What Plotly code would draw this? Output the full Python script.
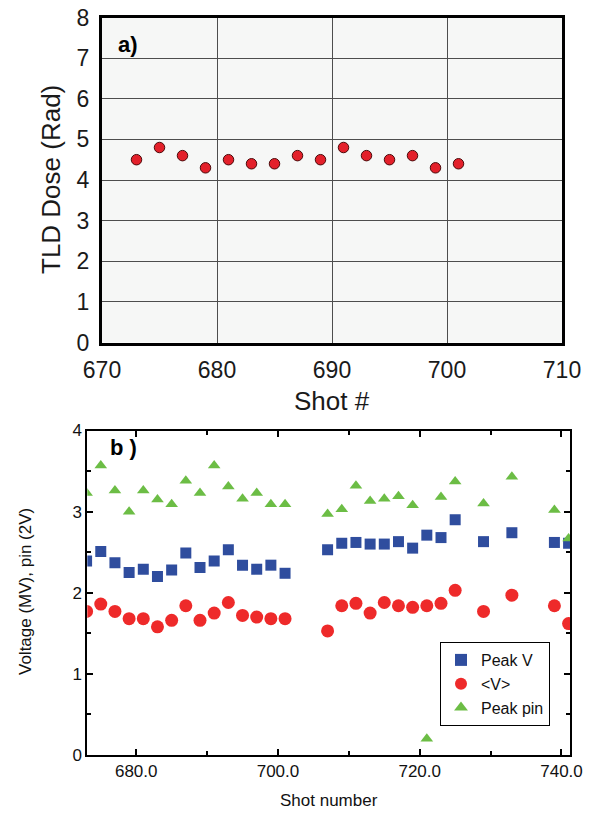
import plotly.graph_objects as go

W, H = 589, 817

# ---- panel a) data ----
dose_shots = [673, 675, 677, 679, 681, 683, 685, 687, 689, 691, 693, 695, 697, 699, 701]
dose_rad = [4.5, 4.8, 4.6, 4.3, 4.5, 4.4, 4.4, 4.6, 4.5, 4.8, 4.6, 4.5, 4.6, 4.3, 4.4]

# ---- panel b) data ----
shots_b = [673, 675, 677, 679, 681, 683, 685, 687, 689, 691, 693, 695, 697, 699, 701,
           707, 709, 711, 713, 715, 717, 719, 721, 723, 725, 729, 733, 739, 741]
peak_v = [2.39, 2.51, 2.37, 2.25, 2.29, 2.20, 2.28, 2.49, 2.31, 2.39, 2.53, 2.34, 2.29, 2.34, 2.24,
          2.53, 2.61, 2.62, 2.60, 2.60, 2.63, 2.55, 2.71, 2.68, 2.90, 2.63, 2.74, 2.62, 2.61]
mean_v = [1.77, 1.86, 1.77, 1.68, 1.68, 1.58, 1.66, 1.84, 1.66, 1.75, 1.88, 1.72, 1.70, 1.68, 1.68,
          1.53, 1.84, 1.87, 1.75, 1.88, 1.84, 1.82, 1.84, 1.87, 2.03, 1.77, 1.97, 1.84, 1.62]
peak_pin = [3.23, 3.57, 3.26, 3.00, 3.26, 3.15, 3.09, 3.38, 3.23, 3.57, 3.31, 3.16, 3.23, 3.09, 3.09,
            2.97, 3.03, 3.32, 3.13, 3.16, 3.19, 3.08, 0.20, 3.18, 3.37, 3.10, 3.43, 3.02, 2.67]

xa_ticks = [670, 680, 690, 700, 710]
ya_ticks = [0, 1, 2, 3, 4, 5, 6, 7, 8]
xb_ticks = [680, 700, 720, 740]
yb_ticks = [0, 1, 2, 3, 4]

FONT = "Liberation Sans, Arial, sans-serif"

def px_x(p):
    return p / W

def px_y(p):
    return 1 - p / H

fig = go.Figure()

fig.add_trace(go.Scatter(
    x=dose_shots, y=dose_rad, mode="markers", xaxis="x", yaxis="y",
    marker=dict(symbol="circle", size=10.5, color="#e3202a",
                line=dict(color="#4a0a0a", width=1)),
    showlegend=False,
))

fig.add_trace(go.Scatter(
    x=shots_b, y=peak_v, mode="markers", xaxis="x2", yaxis="y2", name="Peak V",
    marker=dict(symbol="square", size=11, color="#2f4d9e"),
))
fig.add_trace(go.Scatter(
    x=shots_b, y=mean_v, mode="markers", xaxis="x2", yaxis="y2", name="<V>",
    marker=dict(symbol="circle", size=13, color="#ee2a2a"),
))
fig.add_trace(go.Scatter(
    x=shots_b, y=peak_pin, mode="markers", xaxis="x2", yaxis="y2", name="Peak pin",
    marker=dict(symbol="triangle-up", size=11, color="#6cbd45"),
))

fig.update_layout(
    width=W, height=H,
    margin=dict(l=0, r=0, t=0, b=0),
    paper_bgcolor="white",
    plot_bgcolor="rgba(0,0,0,0)",
    template="none",
    font=dict(family=FONT, color="#111"),
    xaxis=dict(
        domain=[px_x(102), px_x(562)], anchor="y", range=[670, 710],
        tickvals=xa_ticks, ticktext=[str(v) for v in xa_ticks],
        showgrid=True, gridcolor="#4d4d4d", gridwidth=1, zeroline=False,
        showline=True, linecolor="black", linewidth=3, mirror=True,
        ticks="", ticklabelstandoff=5,
        tickfont=dict(size=23, color="#1a1a1a"),
    ),
    yaxis=dict(
        domain=[px_y(342.5), px_y(17.5)], anchor="x", range=[0, 8],
        tickvals=ya_ticks, ticktext=[str(v) for v in ya_ticks],
        showgrid=True, gridcolor="#4d4d4d", gridwidth=1, zeroline=False,
        showline=True, linecolor="black", linewidth=3, mirror=True,
        ticks="", ticklabelstandoff=5,
        tickfont=dict(size=23, color="#1a1a1a"),
    ),
    xaxis2=dict(
        domain=[px_x(87.3), px_x(570)], anchor="y2", range=[673.1, 741.2],
        tickvals=xb_ticks, ticktext=["%.1f" % v for v in xb_ticks],
        showgrid=False, zeroline=False,
        showline=True, linecolor="black", linewidth=2, mirror="ticks",
        ticks="inside", ticklen=6, tickwidth=2, tickcolor="black",
        minor=dict(ticks="inside", dtick=10, tick0=670, ticklen=4, tickwidth=1.5, tickcolor="black"),
        tickfont=dict(size=17, color="#111"),
    ),
    yaxis2=dict(
        domain=[px_y(755), px_y(430.5)], anchor="x2", range=[0, 4],
        tickvals=yb_ticks, ticktext=[str(v) for v in yb_ticks],
        showgrid=False, zeroline=False,
        showline=True, linecolor="black", linewidth=2, mirror="ticks",
        ticks="inside", ticklen=6, tickwidth=2, tickcolor="black",
        minor=dict(ticks="inside", dtick=0.5, tick0=0, ticklen=4, tickwidth=1.5, tickcolor="black"),
        tickfont=dict(size=17, color="#111"),
    ),
    legend=dict(
        x=px_x(440), y=px_y(642), xanchor="left", yanchor="top",
        bordercolor="black", borderwidth=1, bgcolor="white",
        font=dict(size=16, color="#111"),
        itemsizing="constant", tracegroupgap=0,
    ),
    shapes=[dict(
        type="rect", xref="x domain", yref="y domain", x0=0, x1=1, y0=0, y1=1,
        fillcolor="#f6f7f6", line=dict(width=0), layer="below",
    )],
    annotations=[
        dict(text="TLD Dose (Rad)", x=px_x(51), y=px_y(180), xref="paper", yref="paper",
             textangle=-90, showarrow=False, xanchor="center", yanchor="middle",
             font=dict(size=26, color="#1a1a1a")),
        dict(text="Shot #", x=px_x(332), y=px_y(401), xref="paper", yref="paper",
             showarrow=False, xanchor="center", yanchor="middle",
             font=dict(size=26, color="#1a1a1a")),
        dict(text="<b>a)</b>", x=px_x(116), y=px_y(44), xref="paper", yref="paper",
             showarrow=False, xanchor="left", yanchor="middle",
             font=dict(size=22, color="black")),
        dict(text="Voltage (MV), pin (2V)", x=px_x(25), y=px_y(592), xref="paper", yref="paper",
             textangle=-90, showarrow=False, xanchor="center", yanchor="middle",
             font=dict(size=17, color="#111")),
        dict(text="Shot number", x=px_x(328.6), y=px_y(800), xref="paper", yref="paper",
             showarrow=False, xanchor="center", yanchor="middle",
             font=dict(size=17, color="#111")),
        dict(text="<b>b )</b>", x=px_x(108), y=px_y(447), xref="paper", yref="paper",
             showarrow=False, xanchor="left", yanchor="middle",
             font=dict(size=22, color="black")),
    ],
)

fig.write_html("out.html", config={"displayModeBar": False},
               post_script="document.body.style.margin='0px';document.body.style.overflow='hidden';")
